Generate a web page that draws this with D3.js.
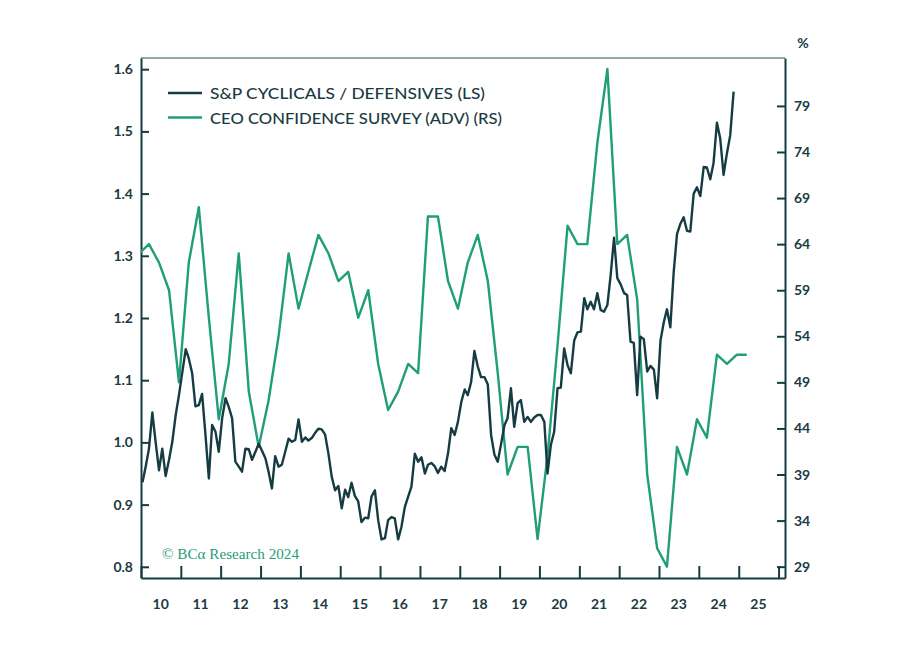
<!doctype html>
<html lang="en">
  <head>
    <meta charset="utf-8">
    <script src="https://d3js.org/d3.v7.min.js"></script>
    <title>S&P Cyclicals / Defensives vs CEO Confidence</title>
    <style>
      body { margin: 0; background: #fff; }
      text { font-family: Lato, "Open Sans", sans-serif; fill: #1a3b42; }
      .tick text { font-size: 14px; font-weight: 700; }
      .legend text { font-size: 16px; font-weight: 500; }
      .brand { font-family: "Liberation Serif", "DejaVu Serif", serif; font-size: 15px; fill: #1f9e77; }
    </style>
  </head>
  <body>
    <svg width="912" height="653"></svg>

    <script>
      // S&P cyclicals / defensives, monthly from Jan 2010 (left scale)
      const cycDefStart = new Date(2010, 0, 15);
      const cycDefValues = [
        0.936, 0.963, 0.990, 1.048, 1.001, 0.955, 0.990, 0.946, 0.972, 1.001, 1.044, 1.076, // 2010
        1.113, 1.150, 1.135, 1.111, 1.058, 1.060, 1.078, 1.012, 0.942, 1.028, 1.017, 0.985, // 2011
        1.039, 1.071, 1.057, 1.039, 0.969, 0.961, 0.953, 0.990, 0.989, 0.972, 0.985, 0.998, // 2012
        0.986, 0.974, 0.953, 0.926, 0.978, 0.961, 0.964, 0.985, 1.006, 1.001, 1.004, 1.037, // 2013
        1.001, 1.008, 1.003, 1.007, 1.015, 1.022, 1.021, 1.013, 0.982, 0.945, 0.923, 0.930, // 2014
        0.894, 0.924, 0.912, 0.935, 0.914, 0.905, 0.872, 0.879, 0.878, 0.913, 0.923, 0.875, // 2015
        0.844, 0.846, 0.875, 0.880, 0.878, 0.844, 0.864, 0.896, 0.913, 0.929, 0.982, 0.969, // 2016
        0.976, 0.950, 0.964, 0.967, 0.962, 0.951, 0.961, 0.954, 0.982, 1.023, 1.012, 1.033, // 2017
        1.065, 1.085, 1.076, 1.097, 1.147, 1.122, 1.105, 1.105, 1.093, 1.012, 0.980, 0.969, // 2018
        0.998, 1.028, 1.039, 1.087, 1.025, 1.063, 1.068, 1.033, 1.041, 1.033, 1.040, 1.044, // 2019
        1.044, 1.033, 0.950, 0.996, 1.017, 1.087, 1.088, 1.151, 1.124, 1.111, 1.164, 1.177, // 2020
        1.178, 1.232, 1.214, 1.226, 1.214, 1.240, 1.213, 1.210, 1.221, 1.269, 1.329, 1.264, // 2021
        1.254, 1.240, 1.237, 1.162, 1.160, 1.076, 1.170, 1.166, 1.114, 1.123, 1.117, 1.071, // 2022
        1.164, 1.194, 1.214, 1.185, 1.272, 1.335, 1.351, 1.362, 1.340, 1.339, 1.400, 1.410, // 2023
        1.396, 1.443, 1.442, 1.423, 1.449, 1.514, 1.489, 1.430, 1.465, 1.494, 1.564         // 2024
      ];

      // CEO confidence survey (advanced), quarterly from Q4 2009 (right scale, %)
      const ceoStart = new Date(2009, 11, 15);
      const ceoValues = [
        63,
        64, 62, 59, 49,  62, 68, 56, 45,  51, 63, 48, 42,  47, 54, 63, 57,  // 2010-13
        61, 65, 63, 60,  61, 56, 59, 51,  46, 48, 51, 50,  67, 67, 60, 57,  // 2014-17
        62, 65, 60, 50,  39, 42, 42, 32,  41, 53, 66, 64,  64, 75, 83, 64,  // 2018-21
        65, 58, 39, 31,  29, 42, 39, 45,  43, 52, 51, 52,                   // 2022-24
        52                                                                  // 2025
      ];

      const leftTicks = [0.8, 0.9, 1.0, 1.1, 1.2, 1.3, 1.4, 1.5, 1.6];
      const rightTicks = [29, 34, 39, 44, 49, 54, 59, 64, 69, 74, 79];
      const yearLabels = d3.range(2010, 2026);
      const legendNames = ["S&P CYCLICALS / DEFENSIVES (LS)", "CEO CONFIDENCE SURVEY (ADV) (RS)"];

      const darkColor = "#163c43";
      const greenColor = "#1f9e77";

      const cycDef = cycDefValues.map((v, i) => ({ date: d3.timeMonth.offset(cycDefStart, i), value: v }));
      const ceo = ceoValues.map((v, i) => ({ date: d3.timeMonth.offset(ceoStart, 3 * i), value: v }));

      const plotLeft = 141, plotRight = 785, plotTop = 58, plotBottom = 578;

      const svg = d3.select("svg");

      const x = d3.scaleTime()
        .domain([new Date(2010, 0, 1), new Date(2026, 2, 1)])
        .range([plotLeft, plotRight]);
      const yL = d3.scaleLinear().domain([0.782, 1.618]).range([plotBottom, plotTop]);
      const yR = d3.scaleLinear().domain([27.77, 84.2]).range([plotBottom, plotTop]);

      svg.append("defs").append("clipPath").attr("id", "plot")
        .append("rect").attr("x", plotLeft).attr("y", plotTop)
        .attr("width", plotRight - plotLeft).attr("height", plotBottom - plotTop);

      // frame top
      svg.append("line")
        .attr("x1", plotLeft).attr("x2", plotRight).attr("y1", plotTop).attr("y2", plotTop)
        .attr("stroke", "#6f8b90").attr("stroke-width", 1.5);

      // x axis ticks at year boundaries, labels mid-year
      const xAxis = svg.append("g")
        .attr("transform", `translate(0,${plotBottom})`)
        .call(d3.axisBottom(x)
          .tickValues(d3.range(2010, 2027).map(y => new Date(y, 0, 1)))
          .tickSizeInner(-12).tickSizeOuter(0).tickFormat(""));
      xAxis.selectAll("line, path").attr("stroke", darkColor).attr("stroke-width", 2);

      svg.append("g").attr("class", "tick")
        .selectAll("text")
        .data(yearLabels)
        .enter().append("text")
        .attr("x", d => x(new Date(d, 6, 1)))
        .attr("y", 609)
        .attr("text-anchor", "middle")
        .text(d => String(d).slice(2));

      const axisL = svg.append("g")
        .attr("transform", `translate(${plotLeft},0)`)
        .call(d3.axisLeft(yL).tickValues(leftTicks).tickFormat(d3.format(".1f"))
          .tickSizeInner(-8).tickSizeOuter(0).tickPadding(8));
      axisL.selectAll("line, path").attr("stroke", darkColor).attr("stroke-width", 2);

      const axisR = svg.append("g")
        .attr("transform", `translate(${plotRight},0)`)
        .call(d3.axisRight(yR).tickValues(rightTicks)
          .tickSizeInner(-8).tickSizeOuter(0).tickPadding(9));
      axisR.selectAll("line, path").attr("stroke", darkColor).attr("stroke-width", 2);

      svg.selectAll(".tick text").attr("fill", "#1a3b42").attr("font-family", null).attr("font-size", null);

      svg.append("text").attr("class", "tick")
        .attr("x", 803).attr("y", 48).attr("text-anchor", "middle")
        .style("font-size", "14px").style("font-weight", 700)
        .text("%");

      // series
      const lineL = d3.line().x(d => x(d.date)).y(d => yL(d.value));
      const lineR = d3.line().x(d => x(d.date)).y(d => yR(d.value));

      const plot = svg.append("g").attr("clip-path", "url(#plot)");
      plot.append("path").datum(ceo)
        .attr("fill", "none").attr("stroke", greenColor).attr("stroke-width", 2.4)
        .attr("stroke-linejoin", "round").attr("d", lineR);
      plot.append("path").datum(cycDef)
        .attr("fill", "none").attr("stroke", darkColor).attr("stroke-width", 2.4)
        .attr("stroke-linejoin", "round").attr("d", lineL);

      // legend
      const legend = svg.append("g").attr("class", "legend");
      const legendWidths = [275, 292];
      legendNames.forEach((name, i) => {
        const ly = 93 + i * 24.5;
        legend.append("line")
          .attr("x1", 168).attr("x2", 202).attr("y1", ly).attr("y2", ly)
          .attr("stroke", i === 0 ? darkColor : greenColor).attr("stroke-width", 2.4);
        legend.append("text")
          .attr("x", 210).attr("y", ly + 6)
          .attr("textLength", legendWidths[i]).attr("lengthAdjust", "spacingAndGlyphs")
          .text(name);
      });

      svg.append("text").attr("class", "brand")
        .attr("x", 162).attr("y", 559)
        .attr("textLength", 137).attr("lengthAdjust", "spacingAndGlyphs")
        .text("© BCα Research 2024");
    </script>
  </body>
</html>
